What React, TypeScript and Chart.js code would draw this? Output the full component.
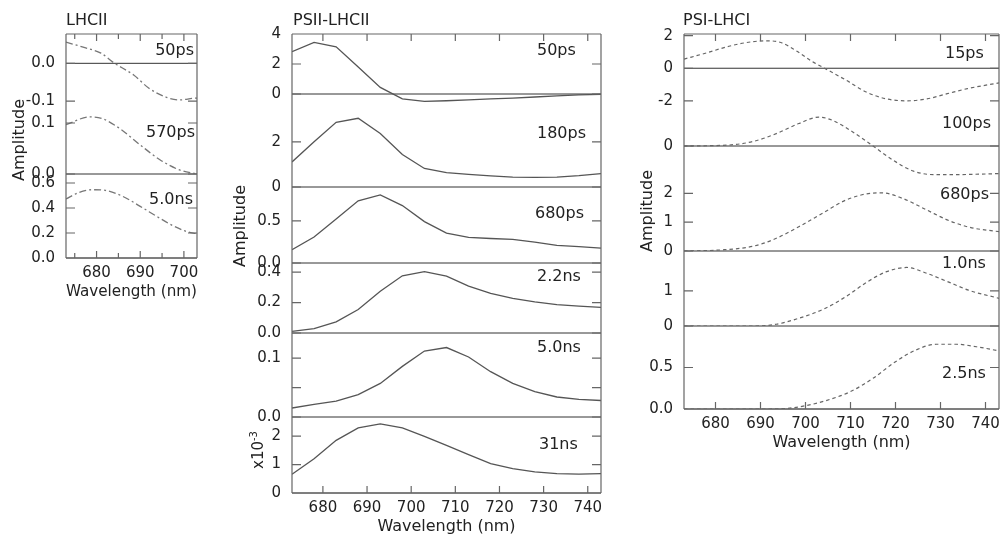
import React, { useEffect, useRef } from "react";
import { Chart, registerables } from "chart.js";
Chart.register(...registerables);

Chart.defaults.font.family = "'DejaVu Sans', sans-serif";
Chart.defaults.color = "#222";

// ---------- DATA ----------
// LHCII (dash-dot)
const lhcii50Wl = [673, 677.5, 681, 684, 688.5, 692, 696, 699, 702, 703];
const lhcii50Amp = [0.056, 0.041, 0.027, 0.001, -0.031, -0.066, -0.09, -0.097, -0.093, -0.092];
const lhcii570Wl = [673, 678.5, 681.5, 685.5, 690, 694.5, 699, 703];
const lhcii570Amp = [0.097, 0.112, 0.108, 0.088, 0.057, 0.028, 0.008, 0.0];
const lhcii5nsWl = [673, 676, 679, 682, 686, 690, 694, 697.5, 700.5, 703];
const lhcii5nsAmp = [0.472, 0.525, 0.546, 0.541, 0.493, 0.413, 0.328, 0.258, 0.213, 0.194];

// PSII-LHCII (solid)
const psiiWl = [673, 678, 683, 688, 693, 698, 703, 708, 713, 718, 723, 728, 733, 738, 743];
const psii50ps = [2.82, 3.44, 3.15, 1.8, 0.44, -0.33, -0.49, -0.45, -0.39, -0.32, -0.27, -0.2, -0.13, -0.06, -0.02];
const psii180ps = [1.11, 2.0, 2.86, 3.04, 2.37, 1.44, 0.82, 0.64, 0.56, 0.49, 0.44, 0.43, 0.44, 0.5, 0.59];
const psii680ps = [0.157, 0.307, 0.52, 0.736, 0.807, 0.68, 0.49, 0.354, 0.303, 0.29, 0.28, 0.248, 0.208, 0.193, 0.177];
const psii2p2ns = [0.011, 0.029, 0.073, 0.154, 0.275, 0.376, 0.403, 0.374, 0.308, 0.26, 0.227, 0.205, 0.187, 0.176, 0.168];
const psii5p0ns = [0.0153, 0.0216, 0.0268, 0.038, 0.057, 0.086, 0.112, 0.118, 0.102, 0.077, 0.057, 0.043, 0.034, 0.03, 0.028];
const psii31ns = [0.66, 1.2, 1.85, 2.29, 2.43, 2.29, 1.99, 1.67, 1.35, 1.03, 0.86, 0.74, 0.68, 0.66, 0.68];

// PSI-LHCI (dashed)
const psi15Wl = [673, 678, 683, 688, 691.5, 694.5, 698, 701.5, 704.5, 709, 713.5, 718, 722.5, 727, 731.5, 736, 743];
const psi15Amp = [0.56, 0.94, 1.35, 1.62, 1.68, 1.58, 1.06, 0.41, -0.04, -0.73, -1.46, -1.88, -2.0, -1.88, -1.56, -1.25, -0.9];
const psi100Wl = [673, 683, 688.5, 693.5, 698.5, 703, 706, 710.5, 715, 719.5, 724, 728.5, 733, 743];
const psi100Amp = [0, 0.04, 0.19, 0.5, 0.91, 1.17, 1.04, 0.57, 0, -0.58, -1.02, -1.16, -1.16, -1.12];
const psi680Wl = [673, 681, 688.5, 693.5, 698.5, 704, 709, 713.5, 717, 721.5, 727, 731.5, 736.5, 743];
const psi680Amp = [0, 0.035, 0.17, 0.44, 0.84, 1.33, 1.77, 1.98, 2.02, 1.83, 1.42, 1.08, 0.82, 0.67];
const psi1nsWl = [673, 688.5, 693.5, 698.5, 704, 709, 713.5, 718, 722.5, 727, 731.5, 736.5, 743];
const psi1nsAmp = [0, 0, 0.05, 0.22, 0.48, 0.84, 1.24, 1.55, 1.67, 1.5, 1.27, 1.01, 0.79];
const psi2p5Wl = [673, 690.5, 696, 700, 704.5, 710, 715, 720, 724.5, 729, 733.5, 738, 743];
const psi2p5Amp = [0, 0, 0.008, 0.04, 0.1, 0.21, 0.37, 0.57, 0.71, 0.78, 0.78, 0.75, 0.7];

// tick values / labels
const xTicksWide = [680, 690, 700, 710, 720, 730, 740];
const xTickLabelsWide = ["680", "690", "700", "710", "720", "730", "740"];
const xTicksNarrow = [680, 690, 700];
const xTickLabelsNarrow = ["680", "690", "700"];
const xMinorNarrow = [675, 685, 695];

const COLOR_TEXT = "#222";
const COLOR_FRAME = "#666";
const COLOR_ZERO = "#333";

type Panel = {
  xs: number[]; ys: number[];
  top: number; bottom: number;
  min: number; max: number;
  ticks: number[]; labels: string[];
  name: string; lx: number; ly: number; align: "left" | "right";
};
type Column = {
  left: number; right: number; xMin: number; xMax: number;
  xTicks: number[]; xLabels: string[]; xMinor: number[];
  color: string; dash: number[]; width: number; smooth: boolean;
  panels: Panel[];
};

const columns: Column[] = [
  {
    left: 66, right: 197, xMin: 673, xMax: 703,
    xTicks: xTicksNarrow, xLabels: xTickLabelsNarrow, xMinor: xMinorNarrow,
    color: "#777", dash: [7, 3, 2, 3], width: 1.3, smooth: true,
    panels: [
      { xs: lhcii50Wl, ys: lhcii50Amp, top: 34, bottom: 112, min: -0.129, max: 0.0777, ticks: [-0.1, 0], labels: ["-0.1", "0.0"], name: "50ps", lx: 194, ly: 50, align: "right" },
      { xs: lhcii570Wl, ys: lhcii570Amp, top: 112, bottom: 174, min: 0, max: 0.1216, ticks: [0, 0.1], labels: ["0.0", "0.1"], name: "570ps", lx: 195, ly: 132, align: "right" },
      { xs: lhcii5nsWl, ys: lhcii5nsAmp, top: 174, bottom: 258, min: 0, max: 0.672, ticks: [0, 0.2, 0.4, 0.6], labels: ["0.0", "0.2", "0.4", "0.6"], name: "5.0ns", lx: 193, ly: 199, align: "right" },
    ],
  },
  {
    left: 292, right: 601, xMin: 673, xMax: 743,
    xTicks: xTicksWide, xLabels: xTickLabelsWide, xMinor: [],
    color: "#555", dash: [], width: 1.3, smooth: false,
    panels: [
      { xs: psiiWl, ys: psii50ps, top: 34, bottom: 109, min: -1, max: 4, ticks: [0, 2, 4], labels: ["0", "2", "4"], name: "50ps", lx: 537, ly: 50, align: "left" },
      { xs: psiiWl, ys: psii180ps, top: 109, bottom: 187, min: 0, max: 3.45, ticks: [0, 2], labels: ["0", "2"], name: "180ps", lx: 537, ly: 133, align: "left" },
      { xs: psiiWl, ys: psii680ps, top: 187, bottom: 263, min: 0, max: 0.9, ticks: [0, 0.5], labels: ["0.0", "0.5"], name: "680ps", lx: 535, ly: 213, align: "left" },
      { xs: psiiWl, ys: psii2p2ns, top: 263, bottom: 333, min: 0, max: 0.46, ticks: [0, 0.2, 0.4], labels: ["0.0", "0.2", "0.4"], name: "2.2ns", lx: 537, ly: 276, align: "left" },
      { xs: psiiWl, ys: psii5p0ns, top: 333, bottom: 417, min: 0, max: 0.1427, ticks: [0, 0.05, 0.1], labels: ["0.0", "", "0.1"], name: "5.0ns", lx: 537, ly: 347, align: "left" },
      { xs: psiiWl, ys: psii31ns, top: 417, bottom: 493, min: 0, max: 2.67, ticks: [0, 1, 2], labels: ["0", "1", "2"], name: "31ns", lx: 539, ly: 444, align: "left" },
    ],
  },
  {
    left: 684, right: 999, xMin: 673, xMax: 743,
    xTicks: xTicksWide, xLabels: xTickLabelsWide, xMinor: [],
    color: "#666", dash: [3.5, 3], width: 1.2, smooth: true,
    panels: [
      { xs: psi15Wl, ys: psi15Amp, top: 34, bottom: 109, min: -2.5, max: 2.1, ticks: [-2, 0, 2], labels: ["-2", "0", "2"], name: "15ps", lx: 945, ly: 53, align: "left" },
      { xs: psi100Wl, ys: psi100Amp, top: 109, bottom: 183, min: -1.5, max: 1.5, ticks: [0], labels: ["0"], name: "100ps", lx: 942, ly: 123, align: "left" },
      { xs: psi680Wl, ys: psi680Amp, top: 183, bottom: 251, min: 0, max: 2.36, ticks: [0, 1, 2], labels: ["0", "1", "2"], name: "680ps", lx: 940, ly: 194, align: "left" },
      { xs: psi1nsWl, ys: psi1nsAmp, top: 251, bottom: 326, min: 0, max: 2.14, ticks: [0, 1], labels: ["0", "1"], name: "1.0ns", lx: 942, ly: 263, align: "left" },
      { xs: psi2p5Wl, ys: psi2p5Amp, top: 326, bottom: 409, min: 0, max: 1.0, ticks: [0, 0.5], labels: ["0.0", "0.5"], name: "2.5ns", lx: 942, ly: 373, align: "left" },
    ],
  },
];

const Y_AXIS_W = 48;
const PAD_T = 12;
const PAD_R = 14;

function PanelChart({ col, p, first, last }: { col: Column; p: Panel; first: boolean; last: boolean }) {
  const ref = useRef<HTMLCanvasElement>(null);
  const padB = last ? 2 : 12;
  const xH = last ? 43 : 0;
  const w = Y_AXIS_W + (col.right - col.left) + PAD_R;
  const h = PAD_T + (p.bottom - p.top) + xH + padB;

  useEffect(() => {
    const framePlugin = {
      id: "frameTicks",
      beforeDatasetsDraw(chart: any) {
        const { ctx, chartArea: a, scales } = chart;
        const y0 = scales.y.getPixelForValue(0);
        ctx.save();
        ctx.strokeStyle = COLOR_ZERO;
        ctx.lineWidth = 1;
        ctx.beginPath();
        ctx.moveTo(a.left, y0);
        ctx.lineTo(a.right, y0);
        ctx.stroke();
        ctx.restore();
      },
      afterDraw(chart: any) {
        const { ctx, chartArea: a, scales } = chart;
        const xs = scales.x;
        const ys = scales.y;
        ctx.save();
        ctx.strokeStyle = COLOR_FRAME;
        ctx.lineWidth = 1.2;
        ctx.beginPath();
        ctx.moveTo(a.left, a.top);
        ctx.lineTo(a.left, a.bottom);
        ctx.moveTo(a.right, a.top);
        ctx.lineTo(a.right, a.bottom);
        if (first) {
          ctx.moveTo(a.left, a.top);
          ctx.lineTo(a.right, a.top);
        }
        if (last) {
          ctx.moveTo(a.left, a.bottom);
          ctx.lineTo(a.right, a.bottom);
        }
        for (const v of p.ticks) {
          const py = ys.getPixelForValue(v);
          ctx.moveTo(a.left, py);
          ctx.lineTo(a.left + 9, py);
          ctx.moveTo(a.right, py);
          ctx.lineTo(a.right - 9, py);
        }
        const marks: [number, number][] = [
          ...col.xTicks.map((v) => [v, 7] as [number, number]),
          ...col.xMinor.map((v) => [v, 5] as [number, number]),
        ];
        for (const [v, len] of marks) {
          const px = xs.getPixelForValue(v);
          if (first) {
            ctx.moveTo(px, a.top);
            ctx.lineTo(px, a.top + len);
          }
          if (last) {
            ctx.moveTo(px, a.bottom);
            ctx.lineTo(px, a.bottom - len);
          }
        }
        ctx.stroke();
        ctx.restore();
      },
    };

    const chart = new Chart(ref.current as HTMLCanvasElement, {
      type: "line",
      data: {
        datasets: [
          {
            data: p.xs.map((x, i) => ({ x, y: p.ys[i] })),
            borderColor: col.color,
            borderWidth: col.width,
            borderDash: col.dash,
            pointRadius: 0,
            fill: false,
            tension: col.smooth ? 0.4 : 0,
            cubicInterpolationMode: col.smooth ? "monotone" : "default",
          } as any,
        ],
      },
      options: {
        responsive: false,
        maintainAspectRatio: false,
        animation: false,
        events: [],
        layout: { padding: { left: 0, top: PAD_T, right: PAD_R, bottom: padB } },
        plugins: { legend: { display: false }, tooltip: { enabled: false }, title: { display: false } },
        scales: {
          x: {
            type: "linear",
            min: col.xMin,
            max: col.xMax,
            display: last,
            afterBuildTicks: (s: any) => {
              s.ticks = col.xTicks.map((v) => ({ value: v }));
            },
            afterFit: (s: any) => {
              s.height = xH;
            },
            grid: { display: false },
            border: { display: false },
            ticks: {
              autoSkip: false,
              maxRotation: 0,
              padding: -2,
              color: COLOR_TEXT,
              font: { size: 15 },
              callback: (_v: any, i: number) => col.xLabels[i],
            },
            title: { display: true, text: "Wavelength (nm)", color: COLOR_TEXT, font: { size: 16 }, padding: 0 },
          },
          y: {
            type: "linear",
            min: p.min,
            max: p.max,
            afterBuildTicks: (s: any) => {
              s.ticks = p.ticks.map((v) => ({ value: v }));
            },
            afterFit: (s: any) => {
              s.width = Y_AXIS_W;
            },
            grid: { display: false },
            border: { display: false },
            ticks: {
              autoSkip: false,
              padding: 3,
              color: COLOR_TEXT,
              font: { size: 15 },
              callback: (_v: any, i: number) => p.labels[i],
            },
          },
        },
      } as any,
      plugins: [framePlugin],
    });
    return () => chart.destroy();
  }, []);

  return (
    <canvas
      ref={ref}
      width={w}
      height={h}
      style={{ position: "absolute", left: col.left - Y_AXIS_W, top: p.top - PAD_T, width: w, height: h }}
    />
  );
}

const textBase: React.CSSProperties = {
  position: "absolute",
  fontFamily: "'DejaVu Sans', sans-serif",
  fontSize: 16,
  lineHeight: "18px",
  color: COLOR_TEXT,
  whiteSpace: "nowrap",
};

function VText({ x, y, children, size = 16 }: { x: number; y: number; children: React.ReactNode; size?: number }) {
  return (
    <div
      style={{
        ...textBase,
        fontSize: size,
        left: x,
        top: y,
        transform: "translate(-50%, -50%) rotate(-90deg)",
      }}
    >
      {children}
    </div>
  );
}

export default function App() {
  return (
    <div style={{ position: "fixed", left: 0, top: 0, width: 1003, height: 535, background: "#fff", overflow: "hidden" }}>
      {columns.map((col, ci) =>
        col.panels.map((p, pi) => (
          <PanelChart key={`${ci}-${pi}`} col={col} p={p} first={pi === 0} last={pi === col.panels.length - 1} />
        ))
      )}
      {columns.map((col, ci) =>
        col.panels.map((p, pi) =>
          p.align === "right" ? (
            <div key={`l${ci}-${pi}`} style={{ ...textBase, right: 1003 - p.lx, top: p.ly - 9 }}>{p.name}</div>
          ) : (
            <div key={`l${ci}-${pi}`} style={{ ...textBase, left: p.lx, top: p.ly - 9 }}>{p.name}</div>
          )
        )
      )}
      <div style={{ ...textBase, left: 66, top: 11 }}>LHCII</div>
      <div style={{ ...textBase, left: 293, top: 11 }}>PSII-LHCII</div>
      <div style={{ ...textBase, left: 683, top: 11 }}>PSI-LHCI</div>
      <VText x={19} y={140}>Amplitude</VText>
      <VText x={240} y={226}>Amplitude</VText>
      <VText x={647} y={211}>Amplitude</VText>
      <VText x={256} y={450} size={15}>
        x10<sup style={{ fontSize: 10 }}>-3</sup>
      </VText>
    </div>
  );
}
